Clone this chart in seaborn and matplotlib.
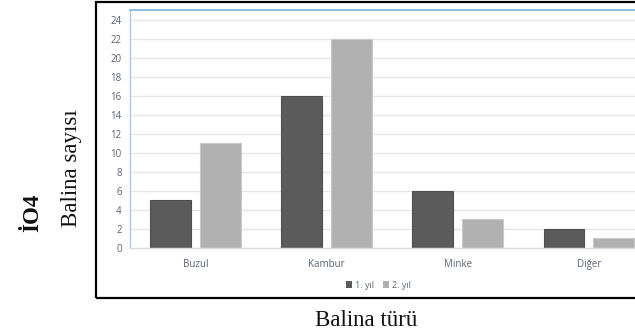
import matplotlib
matplotlib.use("Agg")
import matplotlib.pyplot as plt
from matplotlib.patches import Rectangle, Patch
import pandas as pd
import seaborn as sns

# Whale counts by species over two survey years
species = ["Buzul", "Kambur", "Minke", "Diğer"]
year1 = [5, 16, 6, 2]
year2 = [11, 22, 3, 1]
series_names = ["1. yıl", "2. yıl"]
y_ticks = list(range(0, 25, 2))

df = pd.DataFrame({
    "tür": species * 2,
    "sayı": year1 + year2,
    "yıl": [series_names[0]] * len(species) + [series_names[1]] * len(species),
})

sns.set_theme(style="white")
plt.rcParams["font.family"] = ["Open Sans", "DejaVu Sans"]

fig = plt.figure(figsize=(6.35, 3.36), dpi=100)
ax = fig.add_axes([130 / 635, 88 / 336, 524.5 / 635, (325.7 - 88) / 336])

colors = {series_names[0]: "#5b5b5b", series_names[1]: "#b1b1b1"}
sns.barplot(data=df, x="tür", y="sayı", hue="yıl", palette=colors,
            width=0.76, gap=0.18, saturation=1, legend=False, ax=ax)
for p in ax.patches:
    fc = p.get_facecolor()
    p.set_edgecolor("#4e4e4e" if fc[0] < 0.5 else "#c9c9c9")
    p.set_linewidth(0.8)

ax.set_ylim(0, 25)
ax.set_xlim(-0.5, 3.5)
ax.set_yticks(y_ticks)
ax.yaxis.grid(True, color="#e6e6e6", linewidth=1.0)
ax.set_axisbelow(True)
ax.set_xlabel("")
ax.set_ylabel("")
ax.tick_params(axis="both", length=0, labelsize=7, labelcolor="#5a6275")
ax.tick_params(axis="x", pad=8)
ax.tick_params(axis="y", pad=6)

ax.spines["left"].set_color("#a9cbe9")
ax.spines["left"].set_linewidth(1.0)
ax.spines["top"].set_visible(True)
ax.spines["top"].set_color("#7fb1df")
ax.spines["top"].set_linewidth(1.2)
ax.spines["bottom"].set_color("#dcdcdc")
ax.spines["bottom"].set_linewidth(1.0)
ax.spines["right"].set_visible(False)

handles = [Patch(facecolor=colors[n], edgecolor="none") for n in series_names]
fig.legend(handles, series_names, loc="center", bbox_to_anchor=(378 / 635, 1 - 285 / 336),
           ncol=2, frameon=False, fontsize=6.5, handlelength=0.7, handleheight=0.7,
           handletextpad=0.3, columnspacing=1.0, labelcolor="#5a6275")

# Outer frame around the chart
fig.add_artist(Rectangle((96 / 635, 1 - 298 / 336), 1.0, (298 - 1.5) / 336,
                         transform=fig.transFigure, fill=False,
                         edgecolor="black", linewidth=1.6, clip_on=False))

serif = ["Liberation Serif", "DejaVu Serif"]
fig.text(72 / 635, 1 - 168 / 336, "Balina sayısı", rotation=90, ha="center", va="center",
         fontsize=16.5, family=serif, color="#111111")
fig.text(33 / 635, 1 - 213 / 336, "İO4", rotation=90, ha="center", va="center",
         fontsize=16.5, fontweight="bold", family=serif, color="#111111")
fig.text(366 / 635, 1 - 321 / 336, "Balina türü", ha="center", va="center",
         fontsize=16.5, family=serif, color="#111111")

fig.savefig("out.png", dpi=100)
